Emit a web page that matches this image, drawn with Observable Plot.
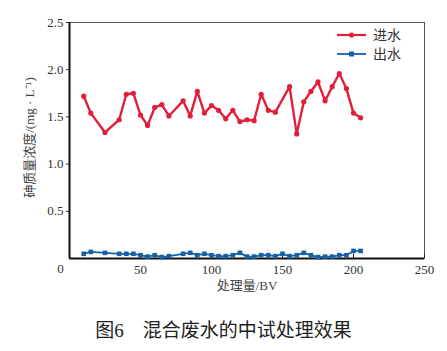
<!DOCTYPE html>
<html>
<head>
<meta charset="utf-8">
<script src="https://cdn.jsdelivr.net/npm/d3@7"></script>
<script src="https://cdn.jsdelivr.net/npm/@observablehq/plot@0.6"></script>
<style>
  body { margin: 0; background: #fff; }
  #wrap { position: relative; width: 447px; height: 351px; }
  #caption { position: absolute; left: 0; width: 447px; top: 315px; text-align: center;
    font-family: "Liberation Serif", "Noto Sans CJK SC", serif; font-size: 19px; color: #222; }
  #legend { position: absolute; left: 330px; top: 22px; }
</style>
</head>
<body>
<div id="wrap">
  <div id="chart"></div>
  <svg id="legend" width="100" height="45"></svg>
  <div id="caption">图6　混合废水的中试处理效果</div>
</div>
<script>
const seriesNames = ["进水", "出水"];
const inletX = [10,15,25,35,40,45,50,55,60,65,70,80,85,90,95,100,105,110,115,120,125,130,135,140,145,155,160,165,170,175,180,185,190,195,200,205];
const inletY = [1.72,1.54,1.335,1.47,1.74,1.75,1.52,1.41,1.60,1.63,1.51,1.67,1.51,1.77,1.54,1.62,1.57,1.48,1.57,1.45,1.47,1.46,1.74,1.57,1.55,1.82,1.32,1.66,1.77,1.87,1.67,1.82,1.96,1.80,1.54,1.49];
const outletX = [10,15,25,35,40,45,50,55,60,65,70,80,85,90,95,100,105,110,115,120,125,130,135,140,145,150,155,160,165,170,175,180,185,190,195,200,205];
const outletY = [0.05,0.07,0.06,0.05,0.05,0.05,0.035,0.02,0.035,0.015,0.025,0.05,0.06,0.035,0.05,0.035,0.025,0.025,0.035,0.06,0.02,0.02,0.035,0.035,0.025,0.05,0.025,0.035,0.06,0.035,0.015,0.02,0.02,0.035,0.035,0.08,0.08];
const xTicks = [50,100,150,200,250];
const yTicks = [0.5,1.0,1.5,2.0,2.5];
const xLabel = "处理量/BV";
const yLabel = "砷质量浓度/(mg · L⁻¹)";
const colors = ["#e21f3a", "#1660a8"];

const inlet = inletX.map((x, i) => ({x, y: inletY[i]}));
const outlet = outletX.map((x, i) => ({x, y: outletY[i]}));

const font = '"Liberation Serif", "Noto Sans CJK SC", serif';

const plot = Plot.plot({
  width: 447,
  height: 305,
  marginLeft: 69,
  marginRight: 23,
  marginTop: 22,
  marginBottom: 47,
  style: {fontFamily: font, fontSize: "13px", color: "#333", background: "#fff"},
  x: {domain: [0, 250]},
  y: {domain: [0, 2.5]},
  marks: [
    Plot.frame({stroke: "#555", strokeWidth: 1}),
    Plot.axisY({ticks: yTicks, tickFormat: d3.format(".1f"), tickSize: 3, tickPadding: 3, fontSize: 13, fontFamily: font, label: null}),
    Plot.axisX({ticks: xTicks, tickSize: 0, tickPadding: 6, fontSize: 13, fontFamily: font, label: null}),
    Plot.ruleX(xTicks, {x: d => d, y1: 0, y2: 0.045, stroke: "#222", strokeWidth: 1}),
    Plot.text([0], {x: d => d, y: d => d, text: d => String(d), dx: -9, dy: 10, fontSize: 13, fontFamily: font, fill: "#333"}),
    Plot.ruleX([0], {stroke: "#111", strokeWidth: 2}),
    Plot.ruleY([0], {stroke: "#111", strokeWidth: 2}),
    Plot.line(inlet, {x: "x", y: "y", stroke: colors[0], strokeWidth: 2.4}),
    Plot.dot(inlet, {x: "x", y: "y", fill: colors[0], r: 2.6, symbol: "circle"}),
    Plot.line(outlet, {x: "x", y: "y", stroke: colors[1], strokeWidth: 1.8}),
    Plot.dot(outlet, {x: "x", y: "y", fill: colors[1], r: 2.6, symbol: "square"}),
    Plot.text([xLabel], {text: d => d, frameAnchor: "bottom", dy: 31, fontSize: 13, fontFamily: font, fill: "#444"}),
    Plot.text([yLabel], {text: d => d, frameAnchor: "left", textAnchor: "middle", dx: -40, dy: -3, rotate: -90, fontSize: 13, fontFamily: font, fill: "#444"})
  ]
});
document.getElementById("chart").appendChild(plot);

// Legend
const lg = d3.select("#legend");
seriesNames.forEach((name, i) => {
  const y = 13 + i * 19;
  lg.append("line").attr("x1", 7).attr("x2", 36).attr("y1", y).attr("y2", y)
    .attr("stroke", colors[i]).attr("stroke-width", i === 0 ? 2.2 : 1.8);
  if (i === 0) {
    lg.append("circle").attr("cx", 21.5).attr("cy", y).attr("r", 2.6).attr("fill", colors[i]);
  } else {
    lg.append("rect").attr("x", 19).attr("y", y - 2.5).attr("width", 5).attr("height", 5).attr("fill", colors[i]);
  }
  lg.append("text").attr("x", 43).attr("y", y).attr("dy", "0.35em")
    .attr("font-family", '"Noto Sans CJK SC", sans-serif').attr("font-size", 14).attr("fill", "#333").text(name);
});
</script>
</body>
</html>
